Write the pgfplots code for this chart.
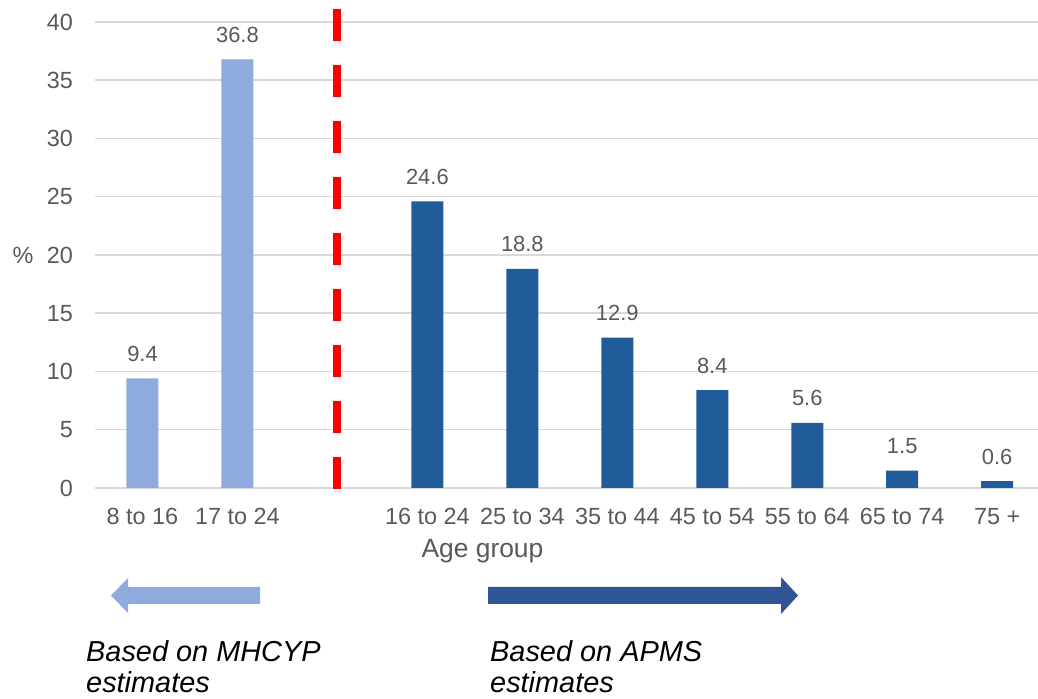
\documentclass[border=0pt]{standalone}
\usepackage{pgfplots}
\pgfplotsset{compat=1.18}
\usepackage{fontspec}
\setmainfont{Liberation Sans}
\definecolor{lightbar}{HTML}{8FAADC}
\definecolor{darkbar}{HTML}{1F5C99}
\definecolor{darkarrow}{HTML}{2F5597}
\definecolor{gridgrey}{HTML}{D9D9D9}
\definecolor{labelgrey}{HTML}{595959}

\begin{document}
\begin{tikzpicture}[x=1bp,y=1bp]
\useasboundingbox (0,0) rectangle (1038,699);
\begin{axis}[
    at={(95bp,211bp)}, anchor=south west,
    scale only axis, width=943bp, height=466bp,
    xmin=-0.5, xmax=9.43,
    ymin=0, ymax=40,
    ytick={0,5,...,40},
    xtick={0,1,3,4,5,6,7,8,9},
    xticklabels={8 to 16,17 to 24,16 to 24,25 to 34,35 to 44,45 to 54,55 to 64,65 to 74,75 +},
    axis lines*=left,
    x axis line style={gridgrey, line width=1.5bp, -},
    y axis line style={draw=none},
    ymajorgrids=true,
    grid style={gridgrey, line width=1.5bp},
    major tick length=0pt,
    /pgf/number format/assume math mode=true,
    tick label style={font=\fontsize{23.5}{26}\selectfont, text=labelgrey},
    yticklabel style={anchor=east, inner sep=0pt, xshift=-22bp},
    xticklabel style={anchor=base, inner sep=0pt, yshift=-37bp},
    ybar, bar shift=0pt, bar width=32bp,
    nodes near coords,
    every node near coord/.append style={font=\fontsize{22}{24}\selectfont, text=labelgrey, anchor=base, inner sep=0pt, yshift=17bp},
    clip=false,
]
\addplot[fill=lightbar, draw=none] coordinates {(0,9.4) (1,36.8)};
\addplot[fill=darkbar, draw=none] coordinates {(3,24.6) (4,18.8) (5,12.9) (6,8.4) (7,5.6) (8,1.5) (9,0.6)};
\addplot[sharp plot, red, line width=8bp, dash pattern=on 32bp off 24bp, nodes near coords={}] coordinates {(2.05,41.1) (2.05,-0.1)};
\node[font=\fontsize{23.5}{26}\selectfont, text=labelgrey] at (rel axis cs:0,0.5) [xshift=-72bp] {\%};
\node[font=\fontsize{26.5}{30}\selectfont, text=labelgrey, anchor=base] at (axis cs:3.58,0) [yshift=-70bp] {Age group};
\end{axis}
\fill[lightbar] (260,95) -- (128,95) -- (128,86) -- (111,103.5) -- (128,121) -- (128,112) -- (260,112) -- cycle;
\fill[darkarrow] (488,95) -- (781,95) -- (781,85) -- (798,103.5) -- (781,122) -- (781,112) -- (488,112) -- cycle;
\begin{scope}[every node/.style={font=\fontsize{29}{34}\selectfont\itshape, anchor=base west, inner sep=0pt}]
\node at (86,37) {Based on MHCYP};
\node at (86,6) {estimates};
\node at (490,37) {Based on APMS};
\node at (490,6) {estimates};
\end{scope}
\end{tikzpicture}
\end{document}
